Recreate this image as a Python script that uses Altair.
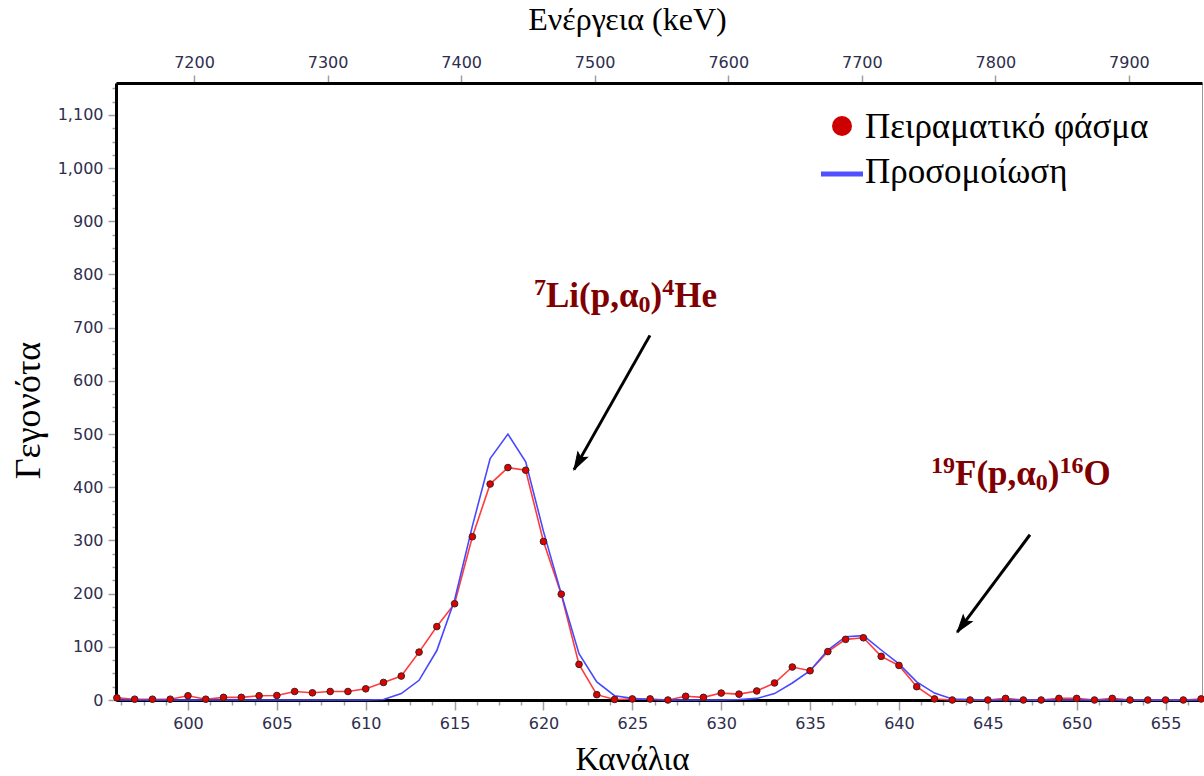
import altair as alt
import pandas as pd

# ---------------- data ----------------
channels = list(range(596, 658))
experimental = [4, 1.5, 1.5, 1.5, 8, 1.5, 5, 5, 8, 8.5,
                16, 13.5, 16, 16, 21, 33, 45, 90, 138, 181,
                307, 406, 437, 432, 298, 199, 67, 10, 1, 2,
                2, 0, 7, 5, 13, 11, 17, 32, 62, 55,
                91, 114, 117, 82, 65, 25, 2, 0, 0, 0,
                3, 0, 0, 3, 3, 0, 3, 0, 0, 0,
                0, 2]
simulation = [0, 0, 0, 0, 0, 0, 0, 0, 0, 0,
              0, 0, 0, 0, 0, 1, 12, 37, 93, 188,
              327, 454, 500, 448, 317, 200, 87, 34, 8, 3,
              1, 0, 0, 0, 0, 1, 3, 12, 32, 55,
              94, 119, 121, 94, 68, 34, 13, 2, 1, 0,
              0, 0, 0, 0, 0, 0, 0, 0, 0, 0,
              0, 0]

x_domain = [595.95, 657.05]
y_domain = [0, 1160]
energy_domain = [7141.6, 7954.7]
energy_ticks = [7200, 7300, 7400, 7500, 7600, 7700, 7800, 7900]
x_tick_values = [596.25 + 1.25 * k for k in range(49)]
y_tick_values = list(range(0, 1161, 25))

legend_labels = ["Πειραματικό φάσμα", "Προσομοίωση"]
x_title = "Κανάλια"
y_title = "Γεγονότα"
top_title = "Ενέργεια (keV)"

df = pd.DataFrame({"channel": channels, "exp": experimental, "sim": simulation})

W, H = 1086, 617
OX, OY = 116, 83  # plot origin inside the page

LABEL_FONT = "DejaVu Sans"
LABEL_COLOR = "#2e2e4e"
LABEL_SIZE = 16
SERIF = "Liberation Serif"

x_axis = alt.Axis(
    values=x_tick_values,
    labelExpr="datum.value % 5 === 0 ? format(datum.value, 'd') : ''",
    tickSize={"condition": {"test": "datum.value % 5 === 0", "value": 10}, "value": 5},
    tickColor="#a0a0a0", tickWidth=1.5,
    domainColor="#000000", domainWidth=3,
    labelFont=LABEL_FONT, labelFontSize=LABEL_SIZE, labelColor=LABEL_COLOR,
    labelPadding=5, labelOverlap=False, labelFlush=False,
    grid=False,
    titleFont=SERIF, titleFontSize=33, titleFontWeight="normal", titleColor="#000000",
    titleX=632 - OX, titleY=769 - H - OY, titleBaseline="alphabetic", titleAlign="center",
)

y_axis = alt.Axis(
    values=y_tick_values,
    labelExpr="datum.value % 100 === 0 ? format(datum.value, ',') : ''",
    tickSize={"condition": {"test": "datum.value % 100 === 0", "value": 8}, "value": 4},
    tickColor="#a0a0a0", tickWidth=1.5,
    domainColor="#000000", domainWidth=3,
    labelFont=LABEL_FONT, labelFontSize=LABEL_SIZE, labelColor=LABEL_COLOR,
    labelPadding=5, labelOverlap=False, labelFlush=False,
    grid=False,
    titleFont=SERIF, titleFontSize=36, titleFontWeight="normal", titleColor="#000000",
    titleX=28 - OX, titleY=410 - OY, titleAngle=-90, titleAlign="center", titleBaseline="middle",
)

top_axis = alt.Axis(
    orient="top",
    values=energy_ticks,
    format="d",
    tickSize=8, tickColor="#a0a0a0", tickWidth=1.5,
    domainColor="#000000", domainWidth=3,
    labelFont=LABEL_FONT, labelFontSize=LABEL_SIZE, labelColor=LABEL_COLOR,
    labelPadding=5, labelOverlap=False, labelFlush=False,
    grid=False,
    titleFont=SERIF, titleFontSize=32, titleFontWeight="normal", titleColor="#000000",
    titleX=627 - OX, titleY=29 - OY, titleBaseline="alphabetic", titleAlign="center",
)

xs = alt.Scale(domain=x_domain, nice=False, zero=False)
ys = alt.Scale(domain=y_domain, nice=False, zero=False)


def X(field):
    return alt.X(field, scale=xs, axis=x_axis, title=x_title)


def Y(field):
    return alt.Y(field, scale=ys, axis=y_axis, title=y_title)


base = alt.Chart(df)

exp_line = base.mark_line(color="#ff3b3b", strokeWidth=1.6).encode(x=X("channel:Q"), y=Y("exp:Q"))
sim_line = base.mark_line(color="#4848ff", strokeWidth=1.6).encode(x=X("channel:Q"), y=Y("sim:Q"))
exp_pts = base.mark_point(
    filled=True, fill="#e00000", stroke="#3a2222", strokeWidth=1, size=44, opacity=1
).encode(x=X("channel:Q"), y=Y("exp:Q"))

# arrows (in data coordinates)
arrow_df = pd.DataFrame({
    "x0": [625.99, 647.37], "y0": [685.5, 310.7],
    "x1": [621.72, 643.28], "y1": [433.1, 127.5],
    "ang": [209.6, 216.8],
})
arrow_lines = alt.Chart(arrow_df).mark_rule(color="#000000", strokeWidth=3).encode(
    x=X("x0:Q"), y=Y("y0:Q"), x2="x1:Q", y2="y1:Q"
)
arrow_heads = alt.Chart(arrow_df).mark_point(
    shape="M0,0 L-0.32,1 L0,0.8 L0.32,1 Z", filled=True, fill="#000000",
    stroke="#000000", strokeWidth=1, size=1200, opacity=1
).encode(x=X("x1:Q"), y=Y("y1:Q"), angle=alt.Angle("ang:Q", scale=None))

# energy (top) axis layer
energy_df = pd.DataFrame({"energy": energy_domain})
top = alt.Chart(energy_df).mark_point(opacity=0).encode(
    x=alt.X("energy:Q", scale=alt.Scale(domain=energy_domain, nice=False, zero=False),
            axis=top_axis, title=top_title)
)

one = pd.DataFrame({"a": [0]})

# annotations built from pieces (text, font size, baseline shift)
WIDTHS = {"L": 667, "i": 278, "(": 333, ")": 333, "p": 556, ",": 250, "α": 560,
          "H": 778, "e": 444, "F": 611, "O": 778}


def text_width(s, size):
    return sum(WIDTHS.get(c, 500) for c in s) * size / 1000.0


def annotation(pieces, x_start, baseline, color="#800000"):
    layers = []
    x = x_start
    for txt, size, dy in pieces:
        layers.append(
            alt.Chart(one).mark_text(
                text=txt, font=SERIF, fontSize=size, fontWeight="bold", color=color,
                align="left", baseline="alphabetic"
            ).encode(x=alt.value(x - OX), y=alt.value(baseline + dy - OY))
        )
        x += text_width(txt, size)
    return layers


li_pieces = [("7", 24, -12), ("Li(p,α", 35, 0), ("0", 24, 5), (")", 35, 0), ("4", 24, -12), ("He", 35, 0)]
f_pieces = [("19", 24, -12), ("F(p,α", 35, 0), ("0", 24, 5), (")", 35, 0), ("16", 24, -12), ("O", 35, 0)]
ann_layers = annotation(li_pieces, 534, 307) + annotation(f_pieces, 931, 485)

# legend
leg_dot = alt.Chart(one).mark_point(filled=True, fill="#cc0000", size=400, opacity=1).encode(
    x=alt.value(842 - OX), y=alt.value(126 - OY)
)
leg_line = alt.Chart(one).mark_rule(color="#5050ff", strokeWidth=5).encode(
    x=alt.value(821 - OX), x2=alt.value(863 - OX), y=alt.value(174 - OY)
)
leg_t1 = alt.Chart(one).mark_text(
    text=legend_labels[0], font=SERIF, fontSize=35, color="#000000", align="left", baseline="alphabetic"
).encode(x=alt.value(865 - OX), y=alt.value(138 - OY))
leg_t2 = alt.Chart(one).mark_text(
    text=legend_labels[1], font=SERIF, fontSize=35, color="#000000", align="left", baseline="alphabetic"
).encode(x=alt.value(865 - OX), y=alt.value(183 - OY))

main = alt.layer(
    exp_line, sim_line, exp_pts, arrow_lines, arrow_heads,
    *ann_layers, leg_dot, leg_line, leg_t1, leg_t2
)

chart = alt.layer(main, top).resolve_scale(x="independent").properties(
    width=W, height=H,
    autosize=alt.AutoSizeParams(type="none"),
    padding={"left": OX, "top": OY, "right": 1204 - OX - W, "bottom": 776 - OY - H},
    background="#ffffff",
).configure_view(stroke="#9a9a9a", strokeWidth=1)

chart.save("out.html", embed_options={"renderer": "svg", "actions": False})
